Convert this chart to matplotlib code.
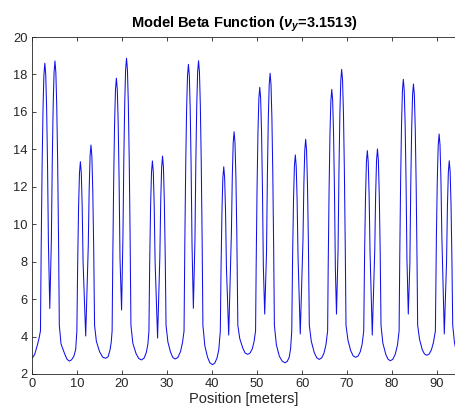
import matplotlib
matplotlib.use("Agg")
import matplotlib.pyplot as plt

# position along the ring [m] and vertical beta [m]
position = [
    0.0, 0.6, 1.2, 1.6, 1.88,
    2.05, 2.25, 2.45, 2.65, 2.85, 3.05, 3.25, 3.45, 3.65, 3.95, 4.3, 4.5, 4.7, 4.9, 5.1, 5.3, 5.5, 5.7, 5.9, 6.07,
    6.45, 7.3, 7.8, 8.3, 8.8, 9.3, 9.7, 9.97,
    10.15, 10.35, 10.55, 10.75, 10.95, 11.15, 11.35, 11.93, 12.5, 12.7, 12.9, 13.1, 13.3, 13.5, 13.7, 13.9,
    14.3, 15.0, 15.7, 16.35, 16.9, 17.35, 17.6, 17.8,
    17.95, 18.15, 18.35, 18.55, 18.75, 18.95, 19.15, 19.35, 19.55, 19.9, 20.2, 20.4, 20.6, 20.8, 21.0, 21.2, 21.4, 21.6, 21.8, 21.98,
    22.4, 23.1, 23.7, 24.3, 24.9, 25.4, 25.75, 25.98,
    26.15, 26.35, 26.55, 26.75, 26.95, 27.15, 27.35, 27.9, 28.4, 28.6, 28.8, 29.0, 29.2, 29.4, 29.6, 29.78,
    30.2, 30.8, 31.3, 31.8, 32.4, 33.0, 33.45, 33.78,
    33.95, 34.15, 34.35, 34.55, 34.75, 34.95, 35.15, 35.35, 35.55, 35.85, 36.2, 36.4, 36.6, 36.8, 37.0, 37.2, 37.4, 37.6, 37.8, 37.97,
    38.4, 39.0, 39.5, 40.1, 40.6, 41.1, 41.5, 41.84,
    42.0, 42.2, 42.4, 42.6, 42.8, 43.0, 43.2, 43.7, 44.3, 44.5, 44.7, 44.9, 45.1, 45.3, 45.5, 45.73,
    46.15, 46.8, 47.35, 47.9, 48.45, 48.95, 49.35, 49.67,
    49.8, 50.0, 50.2, 50.4, 50.6, 50.8, 51.0, 51.2, 51.4, 51.7, 52.1, 52.3, 52.5, 52.7, 52.9, 53.1, 53.3, 53.5, 53.7, 53.85,
    54.3, 54.95, 55.6, 56.2, 56.7, 57.15, 57.45, 57.71,
    57.9, 58.1, 58.3, 58.5, 58.7, 58.9, 59.1, 59.6, 60.2, 60.4, 60.6, 60.8, 61.0, 61.2, 61.4, 61.61,
    62.05, 62.7, 63.25, 63.8, 64.35, 64.85, 65.3, 65.68,
    65.8, 66.0, 66.2, 66.4, 66.6, 66.8, 67.0, 67.2, 67.4, 67.65, 68.0, 68.2, 68.4, 68.6, 68.8, 69.0, 69.2, 69.4, 69.6, 69.76,
    70.2, 70.8, 71.35, 71.9, 72.45, 72.95, 73.35, 73.7,
    73.9, 74.1, 74.3, 74.5, 74.7, 74.9, 75.1, 75.6, 76.15, 76.35, 76.55, 76.75, 76.95, 77.15, 77.35, 77.54,
    77.95, 78.6, 79.1, 79.6, 80.15, 80.7, 81.2, 81.56,
    81.7, 81.9, 82.1, 82.3, 82.5, 82.7, 82.9, 83.1, 83.3, 83.6, 83.95, 84.15, 84.35, 84.55, 84.75, 84.95, 85.15, 85.35, 85.55, 85.68,
    86.1, 86.7, 87.2, 87.7, 88.25, 88.75, 89.2, 89.62,
    89.85, 90.05, 90.25, 90.45, 90.65, 90.85, 91.05, 91.6, 92.1, 92.3, 92.5, 92.7, 92.9, 93.1, 93.3, 93.47,
    93.85, 94.25,
]
beta_y = [
    2.83, 3.05, 3.55, 3.95, 4.3,
    9.0, 13.2, 16.2, 18.0, 18.6, 18.0, 16.2, 13.2, 9.0, 5.5, 9.1, 13.3, 16.3, 18.1, 18.72, 18.1, 16.3, 13.3, 9.1, 4.6,
    3.6, 3.05, 2.78, 2.69, 2.76, 2.95, 3.3, 4.3,
    7.94, 10.94, 12.74, 13.34, 12.74, 10.94, 7.94, 4.03, 8.83, 11.83, 13.63, 14.23, 13.63, 11.83, 8.83, 4.6,
    3.75, 3.2, 2.9, 2.84, 2.92, 3.3, 3.7, 4.3,
    8.2, 12.4, 15.4, 17.2, 17.8, 17.2, 15.4, 12.4, 8.2, 5.42, 9.26, 13.46, 16.46, 18.26, 18.86, 18.26, 16.46, 13.46, 9.26, 4.6,
    3.65, 3.1, 2.83, 2.75, 2.85, 3.15, 3.6, 4.3,
    7.98, 10.98, 12.78, 13.38, 12.78, 10.98, 7.98, 3.92, 8.24, 11.24, 13.04, 13.64, 13.04, 11.24, 8.24, 4.6,
    3.7, 3.15, 2.88, 2.8, 2.88, 3.2, 3.7, 4.3,
    8.94, 13.14, 16.14, 17.94, 18.54, 17.94, 16.14, 13.14, 8.94, 5.51, 9.13, 13.33, 16.33, 18.13, 18.73, 18.13, 16.33, 13.33, 9.13, 4.6,
    3.5, 2.9, 2.6, 2.5, 2.58, 2.85, 3.3, 4.3,
    7.67, 10.67, 12.47, 13.07, 12.47, 10.67, 7.67, 4.08, 9.54, 12.54, 14.34, 14.94, 14.34, 12.54, 9.54, 4.6,
    3.9, 3.4, 3.12, 3.05, 3.12, 3.35, 3.75, 4.3,
    7.71, 11.91, 14.91, 16.71, 17.31, 16.71, 14.91, 11.91, 7.71, 5.2, 8.46, 12.66, 15.66, 17.46, 18.06, 17.46, 15.66, 12.66, 8.46, 4.6,
    3.55, 2.95, 2.68, 2.6, 2.67, 2.9, 3.35, 4.3,
    8.3, 11.3, 13.1, 13.7, 13.1, 11.3, 8.3, 4.14, 9.14, 12.14, 13.94, 14.54, 13.94, 12.14, 9.14, 4.6,
    3.75, 3.15, 2.87, 2.78, 2.86, 3.1, 3.55, 4.3,
    7.6, 11.8, 14.8, 16.6, 17.2, 16.6, 14.8, 11.8, 7.6, 5.2, 8.67, 12.87, 15.87, 17.67, 18.27, 17.67, 15.87, 12.87, 8.67, 4.6,
    3.8, 3.25, 2.97, 2.89, 2.96, 3.2, 3.6, 4.3,
    8.53, 11.53, 13.33, 13.93, 13.33, 11.53, 8.53, 4.08, 8.62, 11.62, 13.42, 14.02, 13.42, 11.62, 8.62, 4.6,
    3.65, 3.05, 2.79, 2.71, 2.78, 3.05, 3.55, 4.3,
    8.14, 12.34, 15.34, 17.14, 17.74, 17.14, 15.34, 12.34, 8.14, 5.2, 7.89, 12.09, 15.09, 16.89, 17.49, 16.89, 15.09, 12.09, 7.89, 4.6,
    3.85, 3.3, 3.07, 3.0, 3.07, 3.3, 3.7, 4.3,
    9.42, 12.42, 14.22, 14.82, 14.22, 12.42, 9.42, 4.14, 7.99, 10.99, 12.79, 13.39, 12.79, 10.99, 7.99, 4.6,
    3.7, 3.2,
]

x_ticks = [0, 10, 20, 30, 40, 50, 60, 70, 80, 90]
y_ticks = [2, 4, 6, 8, 10, 12, 14, 16, 18, 20]

plt.rcParams['font.family'] = ['Liberation Sans', 'DejaVu Sans']
plt.rcParams['mathtext.fontset'] = 'custom'
plt.rcParams['mathtext.it'] = 'Liberation Sans:italic:bold'
plt.rcParams['mathtext.rm'] = 'Liberation Sans:bold'

gray = '#262626'

fig = plt.figure(figsize=(4.56, 4.17), dpi=100)
# axes box: left spine at x=32 px, x axis at y=374 px, top at y=37 px, cut off at the right edge
ax = fig.add_axes([32 / 456, 43 / 417, 424 / 456, 337 / 417])

ax.plot(position, beta_y, color='#1010e8', linewidth=0.75)

ax.set_xlim(0, 94.2)
ax.set_ylim(2, 20)
ax.set_xticks(x_ticks)
ax.set_yticks(y_ticks)

ax.tick_params(direction='in', length=3, width=0.6, top=True, right=False,
               labelsize=9.3, colors=gray, pad=3)
for side in ['left', 'bottom', 'top']:
    ax.spines[side].set_color(gray)
    ax.spines[side].set_linewidth(0.6)
ax.spines['right'].set_visible(False)

ax.set_xlabel('Position [meters]', fontsize=10.5, color=gray, labelpad=1)
ax.set_title(r'Model Beta Function ($\nu_y$=3.1513)', fontsize=10.5,
             fontweight='bold', color='black', pad=7)

fig.savefig('out.png', dpi=100)
